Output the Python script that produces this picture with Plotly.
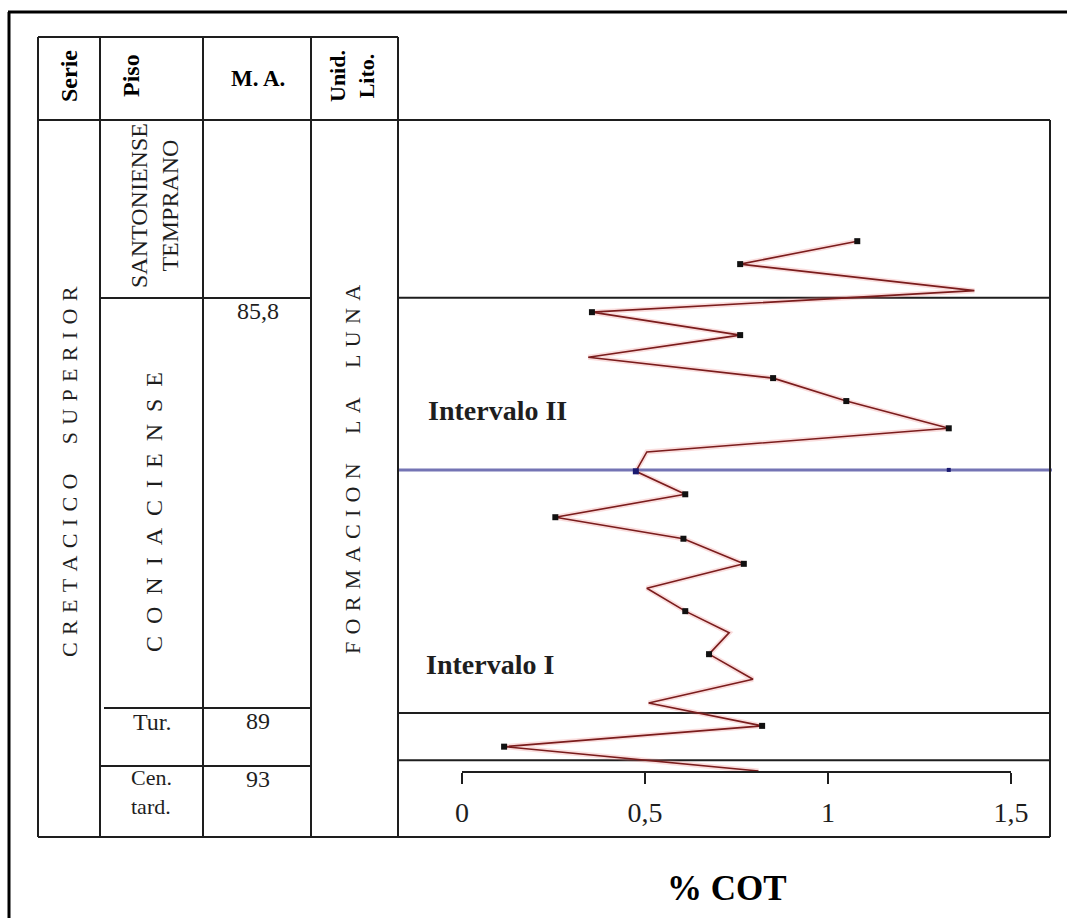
import plotly.graph_objects as go

W, H = 1067, 918

# ---------------- data ----------------
# COT (%), top to bottom
cot = [1.08, 0.76, 1.40, 0.355, 0.76, 0.345, 0.85, 1.05, 1.33, 0.505, 0.475, 0.61,
       0.255, 0.605, 0.77, 0.505, 0.61, 0.73, 0.675, 0.795, 0.51, 0.82, 0.115, 0.81]
# relative stratigraphic height of each vertex (0 = base of column, 100 = top)
height = [83.1, 79.9, 76.2, 73.2, 70.0, 66.9, 64.0, 60.8, 57.0, 53.7, 51.0, 47.8,
          44.6, 41.6, 38.1, 34.7, 31.5, 28.5, 25.5, 22.0, 18.7, 15.5, 12.6, 9.2]
# vertices that carry a sample marker
sampled = [1, 1, 0, 1, 1, 0, 1, 1, 1, 0, 1, 1, 1, 1, 1, 0, 1, 0, 1, 0, 0, 1, 1, 0]

stage_boundaries = [75.2, 17.3, 10.7]      # Santon./Coniac., Coniac./Tur., Tur./Cen.
interval_boundary = 51.2                   # Intervalo I / Intervalo II
interval_dot_cot = 1.33

tick_vals = [0, 0.5, 1, 1.5]
tick_text = ["0", "0,5", "1", "1,5"]

# ---------------- helpers ----------------
def px(x):
    return x / W


def py(y):
    return 1 - y / H


SERIF = "Liberation Serif"
INK = "#1e1e1e"

fig = go.Figure()

# soft pink halo under the curve
fig.add_trace(go.Scatter(x=cot, y=height, mode="lines",
                         line=dict(color="rgba(235,120,120,0.25)", width=5),
                         hoverinfo="skip", showlegend=False, cliponaxis=False))
fig.add_trace(go.Scatter(x=cot, y=height, mode="lines",
                         line=dict(color="#7a1c1c", width=1.6),
                         showlegend=False, cliponaxis=False))

mx = [c for c, s in zip(cot, sampled) if s]
my = [h for h, s in zip(height, sampled) if s]
mcol = ["#1a1a70" if abs(h - interval_boundary) < 0.5 else "#111111" for h in my]
fig.add_trace(go.Scatter(x=mx, y=my, mode="markers",
                         marker=dict(symbol="square", size=6, color=mcol),
                         showlegend=False, cliponaxis=False))
fig.add_trace(go.Scatter(x=[interval_dot_cot], y=[interval_boundary], mode="markers",
                         marker=dict(symbol="square", size=4, color="#1a1a70"),
                         showlegend=False, cliponaxis=False))

shapes = []


def pline(x0, y0, x1, y1, w=2, c=INK):
    shapes.append(dict(type="line", xref="paper", yref="paper",
                       x0=px(x0), y0=py(y0), x1=px(x1), y1=py(y1),
                       line=dict(color=c, width=w), layer="above"))


# outer frame (top and left)
pline(8, 12, 1067, 12, w=3, c="#000")
pline(9, 12, 9, 918, w=3, c="#000")

# table
pline(38, 37, 398, 37)
for xv in [38, 100, 203, 311, 398]:
    pline(xv, 37, xv, 837)
pline(38, 120, 1050, 120)
pline(1050, 120, 1050, 837)
pline(38, 837, 1050, 837)
pline(100, 298, 311, 298)
pline(104, 708, 311, 708)
pline(100, 766, 311, 766)

# boundaries across the COT panel
for hb in stage_boundaries:
    shapes.append(dict(type="line", xref="paper", yref="y",
                       x0=px(398), x1=px(1050), y0=hb, y1=hb,
                       line=dict(color=INK, width=2), layer="below"))
shapes.append(dict(type="line", xref="paper", yref="y",
                   x0=px(398), x1=px(1052), y0=interval_boundary, y1=interval_boundary,
                   line=dict(color="#7474b4", width=3), layer="below"))

# x-axis line drawn only over 0..1.5
shapes.append(dict(type="line", xref="x", yref="paper",
                   x0=tick_vals[0], x1=tick_vals[-1], y0=py(772), y1=py(772),
                   line=dict(color=INK, width=2)))

annotations = []


def txt(x, y, s, size, bold=False, angle=0, color=INK, align="center"):
    if bold:
        s = "<b>" + s.replace("<br>", "</b><br><b>") + "</b>"
    annotations.append(dict(x=px(x), y=py(y), xref="paper", yref="paper", text=s,
                            showarrow=False, textangle=angle, align=align,
                            xanchor="center", yanchor="middle",
                            font=dict(family=SERIF, size=size, color=color)))


def spaced(word_list, gap="\u2004", word_gap="\u2004\u2004\u2004\u2004"):
    return word_gap.join(gap.join(list(w)) for w in word_list)


# headers
txt(69, 76, "Serie", 24, bold=True, angle=-90, color="#000")
txt(131, 76, "Piso", 24, bold=True, angle=-90, color="#000")
txt(258, 78, "M. A.", 23, bold=True, color="#000")
txt(352, 76, "Unid.<br>Lito.", 22, bold=True, angle=-90, color="#000")

# body
txt(69, 472, spaced(["CRETACICO", "SUPERIOR"]), 22, angle=-90)
txt(154, 206, "SANTONIENSE<br>TEMPRANO", 24, angle=-90)
txt(154, 512, spaced(["CONIACIENSE"], gap="\u2002"), 24, angle=-90)
txt(352, 470, spaced(["FORMACION", "LA", "LUNA"]), 22, angle=-90)
txt(258, 311, "85,8", 24)
txt(152, 722, "Tur.", 24)
txt(258, 721, "89", 24)
txt(151, 792, "Cen.<br>tard.", 22, align="left")
txt(258, 779, "93", 24)

# COT panel labels
txt(497, 411, "Intervalo II", 28, bold=True)
txt(490, 664, "Intervalo I", 28, bold=True)
txt(727, 888, "% COT", 35, bold=True, color="#000")

fig.update_layout(
    width=W, height=H,
    margin=dict(l=0, r=0, t=0, b=0),
    paper_bgcolor="white", plot_bgcolor="white",
    font=dict(family=SERIF, color=INK),
    shapes=shapes, annotations=annotations,
    xaxis=dict(domain=[px(398), px(1050)], range=[-0.1749, 1.6066],
               tickvals=tick_vals, ticktext=tick_text,
               ticks="outside", ticklen=11, tickwidth=2, tickcolor=INK,
               showgrid=False, zeroline=False, showline=False,
               tickfont=dict(family=SERIF, size=28, color=INK),
               ticklabelstandoff=4, fixedrange=True),
    yaxis=dict(domain=[py(772), py(120)], range=[9.066, 100],
               visible=False, showgrid=False, zeroline=False, fixedrange=True),
    showlegend=False,
)

fig.write_html("out.html")
